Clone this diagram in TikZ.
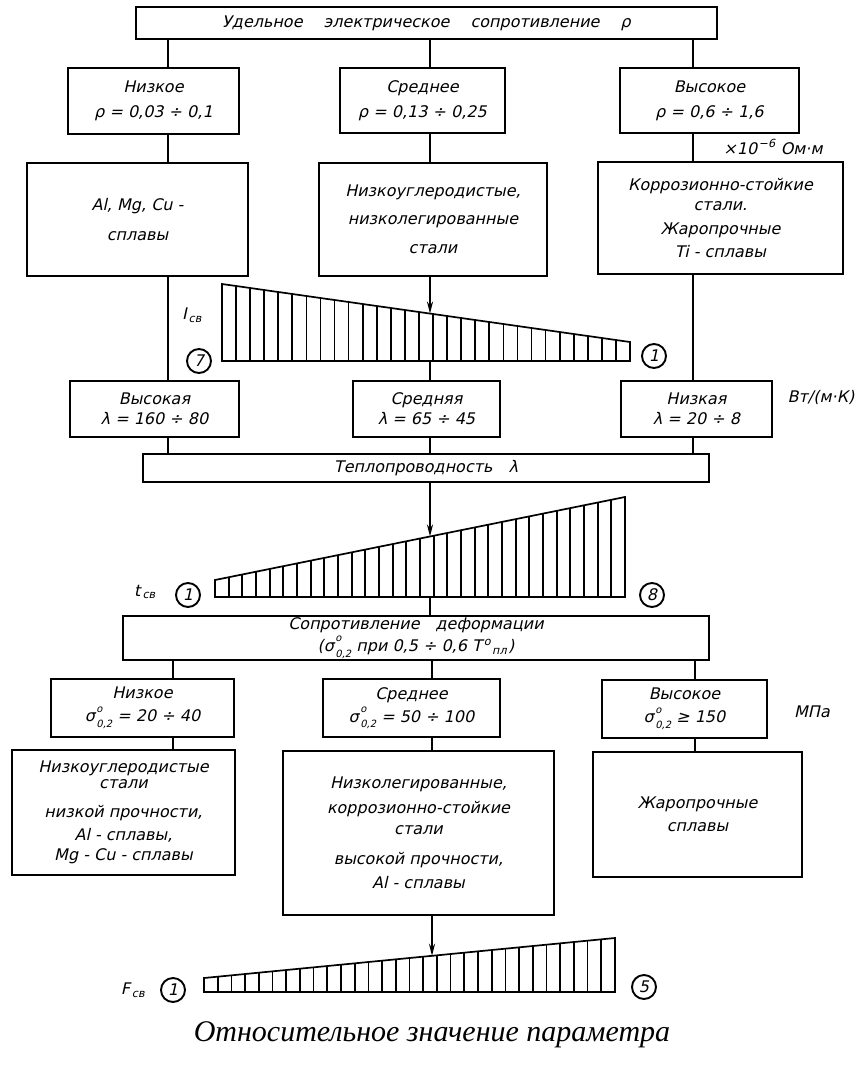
\documentclass[tikz,border=0pt]{standalone}
\usepackage{fontspec}
\setmainfont{DejaVu Sans}
\newfontfamily\gost{DejaVu Sans}[FakeSlant=0.22]
\newfontfamily\capfont{Liberation Serif}
\usetikzlibrary{arrows.meta}
\newcommand\sgm{σ\kern1.5pt\rlap{\raisebox{0.6em}{\fontsize{10}{10}\selectfont o}}\raisebox{-0.35em}{\fontsize{10}{10}\selectfont 0,2}}
\newcommand\hatchbar[6]{%
  \draw[barline] (#1,#5) -- (#1,#3) -- (#2,#4) -- (#2,#5) -- cycle;
  \foreach \k in {1,...,#6}{%
    \pgfmathsetmacro\bx{#1+(#2-#1)*\k/(#6+1)}%
    \pgfmathsetmacro\by{#3+(#4-#3)*\k/(#6+1)}%
    \draw[barline] (\bx,#5) -- (\bx,\by);
  }%
}
\begin{document}
\begin{tikzpicture}[x=1pt, y=-1pt,
    every node/.style = {font=\gost\fontsize{16}{20}\selectfont},
    box/.style = {draw, line width=2.6pt, align=center, inner sep=0pt},
    lbl/.style = {inner sep=1pt},
    num/.style = {draw, circle, line width=1.9pt, minimum size=24pt, inner sep=0pt},
    link/.style = {line width=2.4pt},
    arrowlink/.style = {line width=2.4pt, -{Stealth[length=12pt,width=6pt]}},
    barline/.style = {line width=1.7pt, line join=miter}]
  \useasboundingbox (0,0) rectangle (864,1069);
  \coordinate (c1) at (168,0);
  \coordinate (c2) at (430,0);
  \coordinate (c3) at (693,0);
  \coordinate (d1) at (173,0);
  \coordinate (d2) at (432,0);
  \coordinate (d3) at (695,0);

  \node[box, minimum width=581pt, minimum height=32pt] (rho) at (426.5,23)
    {Удельное\quad\ электрическое\quad\ сопротивление\quad\ ρ};
  \node[box, minimum width=171pt, minimum height=66pt] (lowrho) at (153.5,101) {Низкое\\[5pt]ρ = 0,03 ÷ 0,1};
  \node[box, minimum width=165pt, minimum height=65pt] (midrho) at (422.5,100.5) {Среднее\\[5pt]ρ = 0,13 ÷ 0,25};
  \node[box, minimum width=179pt, minimum height=65pt] (highrho) at (709.5,100.5) {Высокое\\[5pt]ρ = 0,6 ÷ 1,6};
  \node[lbl] (unitrho) at (773,147) {×10\kern1.5pt\textsuperscript{−6} Ом·м};

  \node[box, minimum width=221pt, minimum height=113pt] (alloyA) at (137.5,219.5) {Al, Mg, Cu -\\[10pt]сплавы};
  \node[box, minimum width=228pt, minimum height=113pt] (alloyB) at (433,219.5)
    {Низкоуглеродистые,\\[8pt]низколегированные\\[9pt]стали};
  \node[box, minimum width=245pt, minimum height=112pt] (alloyC) at (720.5,218)
    {Коррозионно-стойкие\\стали.\\[4pt]Жаропрочные\\[3pt]Ti - сплавы};

  \node[lbl] (Ilab) at (192,315) {I\kern2pt\textsubscript{св}};
  \node[num] (n7) at (199,361) {7};
  \node[num] (n1a) at (654,356) {1};
  \hatchbar{222}{630}{284}{342}{361}{28}
  \coordinate (Itop) at (430,313.6);
  \coordinate (Ibot) at (430,361);

  \node[box, minimum width=169pt, minimum height=56pt] (highlam) at (154.5,409) {Высокая\\λ = 160 ÷ 80};
  \node[box, minimum width=147pt, minimum height=56pt] (midlam) at (426.5,409) {Средняя\\λ = 65 ÷ 45};
  \node[box, minimum width=151pt, minimum height=56pt] (lowlam) at (696.5,409) {Низкая\\λ = 20 ÷ 8};
  \node[lbl] (unitlam) at (821,397) {Вт/(м·К)};
  \node[box, minimum width=566pt, minimum height=28pt] (lam) at (426,468) {Теплопроводность\quad λ};

  \node[lbl] (tlab) at (145,592) {t\kern2pt\textsubscript{св}};
  \node[num] (n1b) at (188,595) {1};
  \node[num] (n8) at (652,595) {8};
  \hatchbar{215}{625}{580}{497}{597}{29}
  \coordinate (ttop) at (430,536.5);
  \coordinate (tbot) at (430,597);

  \node[box, minimum width=586pt, minimum height=44pt] (def) at (416,638)
    {Сопротивление\quad деформации\\[2pt](\sgm{} при 0,5 ÷ 0,6 T\kern2pt\textsuperscript{o}\kern1pt\textsubscript{пл}\kern1pt)};
  \node[box, minimum width=183pt, minimum height=58pt] (lowsig) at (142.5,708) {Низкое\\[3pt]\sgm{} = 20 ÷ 40};
  \node[box, minimum width=177pt, minimum height=58pt] (midsig) at (411.5,708) {Среднее\\[3pt]\sgm{} = 50 ÷ 100};
  \node[box, minimum width=165pt, minimum height=58pt] (highsig) at (684.5,709) {Высокое\\[3pt]\sgm{} ≥ 150};
  \node[lbl] (unitsig) at (812,712) {МПа};

  \node[box, minimum width=223pt, minimum height=125pt] (steelA) at (123.5,812.5)
    {Низкоуглеродистые\\[-4pt]стали\\[9pt]низкой прочности,\\[3pt]Al - сплавы,\\Mg - Cu - сплавы};
  \node[box, minimum width=271pt, minimum height=164pt] (steelB) at (418.5,833)
    {Низколегированные,\\[5pt]коррозионно-стойкие\\[1pt]стали\\[10pt]высокой прочности,\\[4pt]Al - сплавы};
  \node[box, minimum width=209pt, minimum height=125pt] (steelC) at (697.5,814.5) {Жаропрочные\\[3pt]сплавы};

  \node[lbl] (Flab) at (133,990) {F\kern2pt\textsubscript{св}};
  \node[num] (n1c) at (173,990) {1};
  \node[num] (n5) at (644,987) {5};
  \hatchbar{204}{615}{978}{938}{992}{29}
  \coordinate (Ftop) at (432,955.8);

  \node[font=\capfont\itshape\fontsize{30}{30}\selectfont] (caption) at (432,1035) {Относительное значение параметра};

  \draw[link] (rho.south -| c1) -- (lowrho.north -| c1);
  \draw[link] (rho.south -| c2) -- (midrho.north -| c2);
  \draw[link] (rho.south -| c3) -- (highrho.north -| c3);
  \draw[link] (lowrho.south -| c1) -- (alloyA.north -| c1);
  \draw[link] (midrho.south -| c2) -- (alloyB.north -| c2);
  \draw[link] (highrho.south -| c3) -- (alloyC.north -| c3);
  \draw[link] (alloyA.south -| c1) -- (highlam.north -| c1);
  \draw[arrowlink] (alloyB.south -| c2) -- (Itop);
  \draw[link] (Ibot) -- (midlam.north -| Ibot);
  \draw[link] (alloyC.south -| c3) -- (lowlam.north -| c3);
  \draw[link] (highlam.south -| c1) -- (lam.north -| c1);
  \draw[link] (midlam.south -| c2) -- (lam.north -| c2);
  \draw[link] (lowlam.south -| c3) -- (lam.north -| c3);
  \draw[arrowlink] (lam.south -| c2) -- (ttop);
  \draw[link] (tbot) -- (def.north -| tbot);
  \draw[link] (def.south -| d1) -- (lowsig.north -| d1);
  \draw[link] (def.south -| d2) -- (midsig.north -| d2);
  \draw[link] (def.south -| d3) -- (highsig.north -| d3);
  \draw[link] (lowsig.south -| d1) -- (steelA.north -| d1);
  \draw[link] (midsig.south -| d2) -- (steelB.north -| d2);
  \draw[link] (highsig.south -| d3) -- (steelC.north -| d3);
  \draw[arrowlink] (steelB.south -| d2) -- (Ftop);
\end{tikzpicture}
\end{document}
